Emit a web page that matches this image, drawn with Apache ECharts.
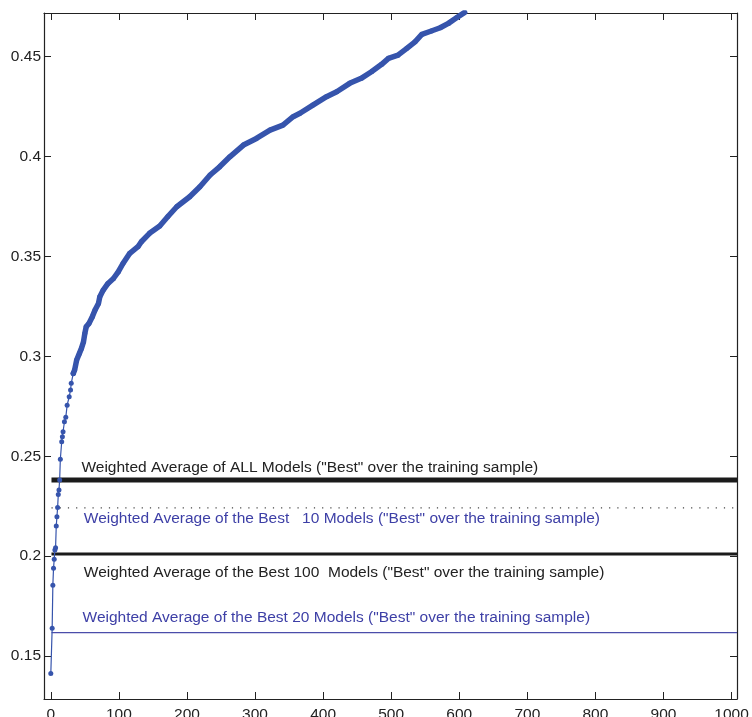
<!DOCTYPE html>
<html>
<head>
<meta charset="utf-8">
<script src="https://cdn.jsdelivr.net/npm/echarts@6/dist/echarts.min.js"></script>
<style>
  html, body { margin: 0; padding: 0; background: #fff; }
  #box { width: 752px; height: 717px; }
</style>
</head>
<body>
<div id="box"></div>
<script>
// tick labels
var xTicks = [0, 100, 200, 300, 400, 500, 600, 700, 800, 900, 1000];
var yTicks = [0.15, 0.2, 0.25, 0.3, 0.35, 0.4, 0.45];

// first few models, drawn point by point
var xEarly = [0, 2, 3, 4, 5, 6, 7, 8, 9, 10, 11, 12, 13, 14, 16, 17, 18, 20, 22, 24, 27, 29, 30, 33];
var yEarly = [0.1413, 0.1639, 0.1855, 0.1939, 0.1984, 0.2031, 0.2042, 0.2151, 0.2197, 0.2244, 0.2309,
    0.2331, 0.2381, 0.2485, 0.2573, 0.2598, 0.2623, 0.2673, 0.2695, 0.2756, 0.2798, 0.2832, 0.2865, 0.2915];

// rest of the curve (dense part)
var xMain = [33, 35, 38, 42, 45, 48, 50, 52, 56, 61, 65, 70, 72, 77, 84, 92, 99, 106, 116, 128, 133,
    145, 160, 172, 185, 204, 219, 234, 248, 263, 283, 302, 322, 341, 356, 366, 385, 405, 420, 439,
    456, 471, 486, 496, 510, 523, 535, 545, 559, 572, 584, 596, 608];
var yMain = [0.2915, 0.2932, 0.2982, 0.3015, 0.3040, 0.3073, 0.3115, 0.3148, 0.3165, 0.3199, 0.3232,
    0.3265, 0.3299, 0.3332, 0.3365, 0.3390, 0.3423, 0.3465, 0.3516, 0.3549, 0.3574, 0.3616, 0.3653,
    0.3700, 0.3749, 0.3799, 0.3849, 0.3908, 0.3949, 0.3999, 0.4058, 0.4091, 0.4133, 0.4158, 0.4200,
    0.4217, 0.4258, 0.4300, 0.4325, 0.4367, 0.4392, 0.4425, 0.4462, 0.4492, 0.4508, 0.4542, 0.4575,
    0.4612, 0.4629, 0.4645, 0.4667, 0.4695, 0.4722];

// weighted averages (horizontal levels)
var levelNames = [
    'Weighted Average of ALL Models ("Best" over the training sample)',
    'Weighted Average of the Best   10 Models ("Best" over the training sample)',
    'Weighted Average of the Best 100  Models ("Best" over the training sample)',
    'Weighted Average of the Best 20 Models ("Best" over the training sample)'
];
var levelValues = [0.2381, 0.2242, 0.2011, 0.1617];
var levelStart = 1;
var levelEnd = 1008;

window.onload = function () {
    var myChart = echarts.init(document.getElementById('box'));
    var font = '"Liberation Sans", Arial, Helvetica, sans-serif';
    var axisColor = '#222';
    var curveColor = '#3654ac';

    function pairs(xs, ys) {
        return xs.map(function (x, i) { return [x, ys[i]]; });
    }

    // style per level line: ALL, 10, 100, 20
    var levelStyles = [
        { color: '#1b1b1b', width: 5, type: 'solid' },
        { color: '#444', width: 1.2, type: [1.2, 7] },
        { color: '#1b1b1b', width: 3, type: 'solid' },
        { color: '#4b4daa', width: 1.3, type: 'solid' }
    ];
    var labelColors = ['#222', '#3d3fa6', '#222', '#3d3fa6'];
    // where each caption sits, in data coords (left edge, vertical middle)
    var labelAnchors = [[45, 0.2445], [48.5, 0.2186], [48.5, 0.1917], [46.6, 0.1694]];

    var levelSeries = levelValues.map(function (v, i) {
        return {
            type: 'line',
            data: [[levelStart, v], [levelEnd, v]],
            showSymbol: false,
            symbol: 'none',
            lineStyle: levelStyles[i],
            z: 2,
            silent: true
        };
    });

    var xBase = {
        type: 'value',
        min: -10,
        max: 1008,
        splitLine: { show: false },
        axisLine: { onZero: false, lineStyle: { color: axisColor, width: 1.2 } },
        axisTick: { inside: true, length: 7, customValues: xTicks, lineStyle: { color: axisColor } }
    };
    var yBase = {
        type: 'value',
        min: 0.1285,
        max: 0.4719,
        splitLine: { show: false },
        axisLine: { onZero: false, lineStyle: { color: axisColor, width: 1.2 } },
        axisTick: { inside: true, length: 7, customValues: yTicks, lineStyle: { color: axisColor } }
    };

    var option = {
        animation: false,
        backgroundColor: '#fff',
        grid: { left: 44, right: 15, top: 13, bottom: 18, containLabel: false, outerBoundsMode: 'none' },
        xAxis: [
            echarts.util.merge({
                position: 'bottom',
                axisLabel: {
                    customValues: xTicks, margin: 8, color: axisColor, fontSize: 15.5, fontFamily: font,
                    formatter: function (v) { return String(v); }
                }
            }, xBase),
            echarts.util.merge({ position: 'top', axisLabel: { show: false } }, echarts.util.clone(xBase))
        ],
        yAxis: [
            echarts.util.merge({
                position: 'left',
                axisLabel: { customValues: yTicks, margin: 3, color: axisColor, fontSize: 15.5, fontFamily: font }
            }, yBase),
            echarts.util.merge({ position: 'right', axisLabel: { show: false } }, echarts.util.clone(yBase))
        ],
        series: levelSeries.concat([
            {
                type: 'line',
                data: pairs(xEarly, yEarly),
                symbol: 'circle',
                symbolSize: 5,
                itemStyle: { color: curveColor },
                lineStyle: { color: curveColor, width: 1.2 },
                z: 5
            },
            {
                type: 'line',
                data: pairs(xMain, yMain),
                symbol: 'circle',
                symbolSize: 5,
                itemStyle: { color: curveColor },
                lineStyle: { color: curveColor, width: 5.5, cap: 'round', join: 'round' },
                z: 5
            }
        ])
    };
    myChart.setOption(option);

    // captions above/below the level lines
    myChart.setOption({
        graphic: labelAnchors.map(function (p, i) {
            var px = myChart.convertToPixel({ xAxisIndex: 0, yAxisIndex: 0 }, p);
            return {
                type: 'text',
                x: px[0],
                y: px[1],
                z: 10,
                style: {
                    text: levelNames[i],
                    fill: labelColors[i],
                    font: '15.5px ' + font,
                    textAlign: 'left',
                    textVerticalAlign: 'middle'
                }
            };
        })
    });
};
</script>
</body>
</html>
